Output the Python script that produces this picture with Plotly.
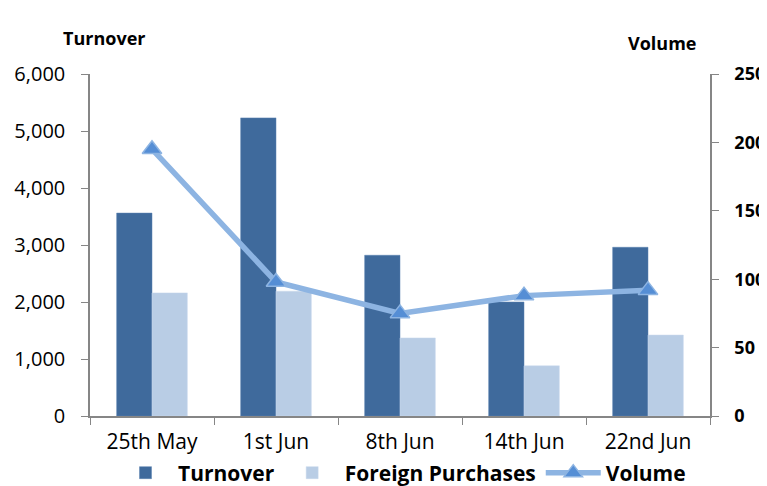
import plotly.graph_objects as go

categories = ["25th May", "1st Jun", "8th Jun", "14th Jun", "22nd Jun"]
turnover = [3560, 5230, 2820, 2000, 2960]
foreign_purchases = [2160, 2190, 1370, 880, 1420]
volume = [195, 98, 75, 88, 92]

left_ticks = [0, 1000, 2000, 3000, 4000, 5000, 6000]
right_ticks = [0, 50, 100, 150, 200, 250]

FONT = "Open Sans"
AXIS_COLOR = "#868686"
OFF = 8  # page body margin offset
W, H = 767, 486

def px_x(px):
    return (px - OFF) / W

def px_y(py):
    return (H - (py - OFF)) / H

fig = go.Figure()
fig.add_trace(go.Bar(x=categories, y=turnover, name="Turnover",
                     marker=dict(color="#3F6A9C", line=dict(color="#5B82B0", width=0.5))))
fig.add_trace(go.Bar(x=categories, y=foreign_purchases, name="Foreign Purchases",
                     marker=dict(color="#B9CDE5", line=dict(color="#C9D8EC", width=0.5))))
fig.add_trace(go.Scatter(x=categories, y=volume, name="Volume", yaxis="y2",
                         mode="lines+markers",
                         line=dict(color="#8DB4E2", width=5.5),
                         marker=dict(symbol="triangle-up", size=17, color="#558ED5",
                                     line=dict(color="#8DB4E2", width=1.5))))

fig.update_layout(
    width=W, height=H,
    margin=dict(l=0, r=0, t=0, b=0),
    paper_bgcolor="white", plot_bgcolor="white",
    barmode="group", bargap=0.43, bargroupgap=0,
    font=dict(family=FONT, size=18, color="#000000"),
    showlegend=True,
    legend=dict(orientation="h", x=px_x(402), xanchor="center", y=px_y(473), yanchor="middle",
                font=dict(family=FONT, size=21, color="#000000", weight="bold"),
                itemwidth=55, traceorder="normal", tracegroupgap=0,
                bgcolor="rgba(0,0,0,0)"),
    xaxis=dict(domain=[px_x(90), px_x(710)], automargin=False,
               showline=True, linecolor=AXIS_COLOR, linewidth=1.5,
               ticks="outside", tickson="boundaries", ticklen=7, tickcolor=AXIS_COLOR,
               ticklabelstandoff=6,
               tickfont=dict(family=FONT, size=21), showgrid=False),
    yaxis=dict(domain=[px_y(416), px_y(74)], automargin=False,
               range=[0, 6000], tickvals=left_ticks, tickformat=",d",
               showline=True, linecolor=AXIS_COLOR, linewidth=1.5,
               ticks="outside", ticklen=7, tickcolor=AXIS_COLOR, ticklabelstandoff=12,
               tickfont=dict(family=FONT, size=20), showgrid=False, zeroline=False),
    yaxis2=dict(range=[0, 250], tickvals=right_ticks, overlaying="y", side="right",
                anchor="x", automargin=False,
                showline=True, linecolor=AXIS_COLOR, linewidth=1.5,
                ticks="outside", ticklen=7, tickcolor=AXIS_COLOR, ticklabelstandoff=12,
                tickfont=dict(family=FONT, size=18, weight="bold"),
                showgrid=False, zeroline=False),
    annotations=[
        dict(text="<b>Turnover</b>", x=px_x(61), y=px_y(24), xref="paper", yref="paper",
             showarrow=False, font=dict(family=FONT, size=18)),
        dict(text="<b>Volume</b>", x=px_x(698), y=px_y(29), xref="paper", yref="paper",
             showarrow=False, font=dict(family=FONT, size=18)),
    ],
)

fig.write_html("out.html")
